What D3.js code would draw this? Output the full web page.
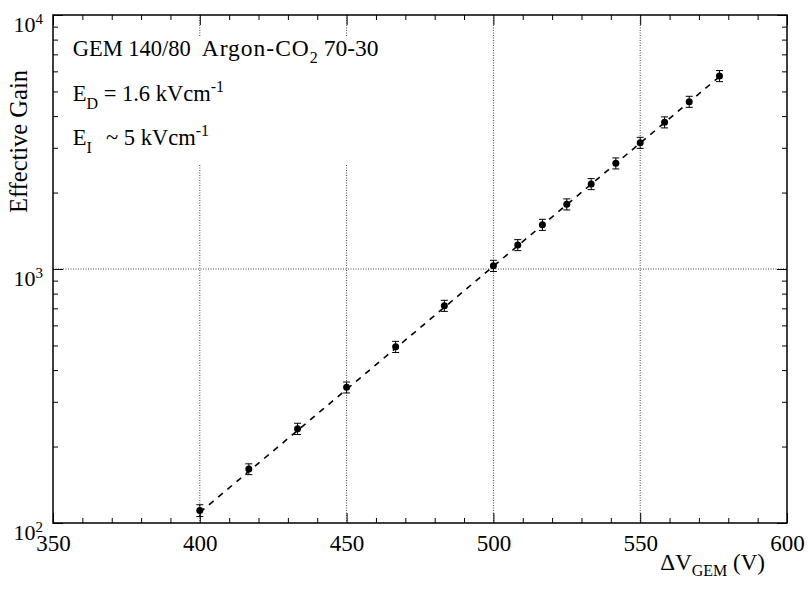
<!DOCTYPE html>
<html>
<head>
<meta charset="utf-8">
<script src="https://cdn.jsdelivr.net/npm/d3@7"></script>
<style>
  body { margin: 0; background: #fff; }
  text { font-family: "Liberation Serif", "Times New Roman", serif; fill: #000; }
</style>
</head>
<body>
<div id="chart"></div>
<script>
// data
const voltage = [400, 416.7, 433.3, 450, 466.7, 483.3, 500, 508.3, 516.7, 525, 533.3, 541.7, 550, 558.3, 566.7, 577];
const gain = [112, 163, 235, 342, 494, 717, 1030, 1243, 1494, 1798, 2161, 2607, 3142, 3782, 4558, 5754];
const gainErr = [6, 8, 12, 17, 25, 36, 52, 62, 75, 90, 108, 130, 157, 189, 228, 288];

// exponential fit, end points
const fitV = [400, 578];
const fitGain = [110, 5850];

const xMajor = [350, 400, 450, 500, 550, 600];
const xMinor = [360, 370, 380, 390, 410, 420, 430, 440, 460, 470, 480, 490, 510, 520, 530, 540, 560, 570, 580, 590];
const yDecades = [100, 1000, 10000];
const yExp = ["2", "3", "4"];
const yMinor = [200, 300, 400, 500, 600, 700, 800, 900, 2000, 3000, 4000, 5000, 6000, 7000, 8000, 9000];

// grid lines drawn in the original
const vGrid = [400, 450, 500, 550];
const hGrid = [1000];

// set the dimensions and margins of the graph
const margin = {top: 15, right: 22, bottom: 66, left: 53},
    width = 809 - margin.left - margin.right,
    height = 589 - margin.top - margin.bottom;

const svg = d3.select("#chart")
  .append("svg")
    .attr("width", 809)
    .attr("height", 589)
  .append("g")
    .attr("transform", `translate(${margin.left}, ${margin.top})`);

const x = d3.scaleLinear().domain([350, 600]).range([0, width]);
const y = d3.scaleLog().domain([100, 10000]).range([height, 0]);

// grid
svg.append("g").selectAll("line.vg")
  .data(vGrid)
  .join("line")
    .attr("x1", d => x(d)).attr("x2", d => x(d))
    .attr("y1", 0).attr("y2", height)
    .style("stroke", "#444").style("stroke-width", 1)
    .style("stroke-dasharray", "1,1.5");

svg.append("g").selectAll("line.hg")
  .data(hGrid)
  .join("line")
    .attr("x1", 0).attr("x2", width)
    .attr("y1", d => y(d)).attr("y2", d => y(d))
    .style("stroke", "#444").style("stroke-width", 1)
    .style("stroke-dasharray", "1,1.5");

// white box behind the text (hides the grid there)
svg.append("rect")
  .attr("x", 10).attr("y", 22)
  .attr("width", 410).attr("height", 127)
  .style("fill", "#fff");

// axes: ticks point into the frame
const tickStyle = g => {
  g.select(".domain").remove();
  g.selectAll(".tick line").style("stroke", "#000").style("stroke-width", 1);
};

svg.append("g")
  .attr("transform", `translate(0, ${height})`)
  .call(d3.axisBottom(x).tickValues(xMajor).tickSize(-10).tickPadding(11.5).tickFormat(d3.format("d")))
  .call(tickStyle)
  .call(g => g.selectAll(".tick text").style("font-size", "23px"));
svg.append("g")
  .attr("transform", `translate(0, ${height})`)
  .call(d3.axisBottom(x).tickValues(xMinor).tickSize(-5).tickFormat(""))
  .call(tickStyle);
svg.append("g")
  .call(d3.axisTop(x).tickValues(xMajor).tickSize(-10).tickFormat(""))
  .call(tickStyle);
svg.append("g")
  .call(d3.axisTop(x).tickValues(xMinor).tickSize(-5).tickFormat(""))
  .call(tickStyle);

svg.append("g")
  .call(d3.axisLeft(y).tickValues(yDecades).tickSize(-10).tickFormat(""))
  .call(tickStyle);
svg.append("g")
  .call(d3.axisLeft(y).tickValues(yMinor).tickSize(-5).tickFormat(""))
  .call(tickStyle);
svg.append("g")
  .attr("transform", `translate(${width}, 0)`)
  .call(d3.axisRight(y).tickValues(yDecades).tickSize(-10).tickFormat(""))
  .call(tickStyle);
svg.append("g")
  .attr("transform", `translate(${width}, 0)`)
  .call(d3.axisRight(y).tickValues(yMinor).tickSize(-5).tickFormat(""))
  .call(tickStyle);

// frame
svg.append("rect")
  .attr("width", width).attr("height", height)
  .style("fill", "none").style("stroke", "#000").style("stroke-width", 1.5);

// y decade labels 10^n
const ylab = svg.append("g").selectAll("text")
  .data(yDecades)
  .join("text")
    .attr("x", 43 - margin.left)
    .attr("y", d => y(d) + 17)
    .attr("text-anchor", "end")
    .style("font-size", "22px");
ylab.append("tspan").text("10");
ylab.append("tspan")
  .attr("dy", "-0.55em")
  .style("font-size", "15px")
  .text((d, i) => yExp[i]);

// axis titles
const xt = svg.append("text")
  .attr("x", 765 - margin.left)
  .attr("y", 570 - margin.top)
  .attr("text-anchor", "end")
  .style("font-size", "23px");
xt.append("tspan").text("\u0394V");
xt.append("tspan").attr("dy", 6).style("font-size", "16px").text("GEM");
xt.append("tspan").attr("dy", -6).text(" (V)");

svg.append("text")
  .attr("transform", `translate(${27 - margin.left}, ${70 - margin.top}) rotate(-90)`)
  .attr("text-anchor", "end")
  .style("font-size", "24.5px")
  .text("Effective Gain");

// fit line (dashed)
const line = d3.line().x(d => x(d[0])).y(d => y(d[1]));
svg.append("path")
  .datum(d3.zip(fitV, fitGain))
  .attr("d", line)
  .style("fill", "none").style("stroke", "#000")
  .style("stroke-width", 1.6).style("stroke-dasharray", "6,6");

// error bars
const pts = d3.zip(voltage, gain, gainErr);
const eb = svg.append("g").selectAll("g")
  .data(pts)
  .join("g");
eb.append("line")
  .attr("x1", d => x(d[0])).attr("x2", d => x(d[0]))
  .attr("y1", d => y(d[1] - d[2])).attr("y2", d => y(d[1] + d[2]))
  .style("stroke", "#000").style("stroke-width", 1);
eb.selectAll("line.cap")
  .data(d => [[d[0], d[1] - d[2]], [d[0], d[1] + d[2]]])
  .join("line")
    .attr("class", "cap")
    .attr("x1", d => x(d[0]) - 3.5).attr("x2", d => x(d[0]) + 3.5)
    .attr("y1", d => y(d[1])).attr("y2", d => y(d[1]))
    .style("stroke", "#000").style("stroke-width", 1);

// points
svg.append("g").selectAll("circle")
  .data(pts)
  .join("circle")
    .attr("cx", d => x(d[0]))
    .attr("cy", d => y(d[1]))
    .attr("r", 3.5)
    .style("fill", "#000");

// annotation text
const note = svg.append("g").style("font-size", "22.5px");
const l1 = note.append("text").attr("x", 72.7 - margin.left).attr("y", 55.7 - margin.top);
l1.append("tspan").text("GEM 140/80");
l1.append("tspan").attr("x", 201.7 - margin.left)
  .style("font-size", "23.5px").style("letter-spacing", "1px").text("Argon-CO");
l1.append("tspan").attr("dy", 7).style("font-size", "16px").text("2");
l1.append("tspan").attr("dy", -7).style("font-size", "23.5px").text(" 70-30");

const l2 = note.append("text").attr("x", 72.7 - margin.left).attr("y", 101 - margin.top);
l2.append("tspan").text("E");
l2.append("tspan").attr("dy", 8).style("font-size", "16px").text("D");
l2.append("tspan").attr("dy", -8).text(" = 1.6 kVcm");
l2.append("tspan").attr("dy", -9).style("font-size", "16px").text("-1");

const l3 = note.append("text").attr("x", 72.7 - margin.left).attr("y", 145.3 - margin.top);
l3.append("tspan").text("E");
l3.append("tspan").attr("dy", 8).style("font-size", "16px").text("I");
l3.append("tspan").attr("dy", -8).attr("x", 106 - margin.left).text("~ 5 kVcm");
l3.append("tspan").attr("dy", -9).style("font-size", "16px").text("-1");
</script>
</body>
</html>
